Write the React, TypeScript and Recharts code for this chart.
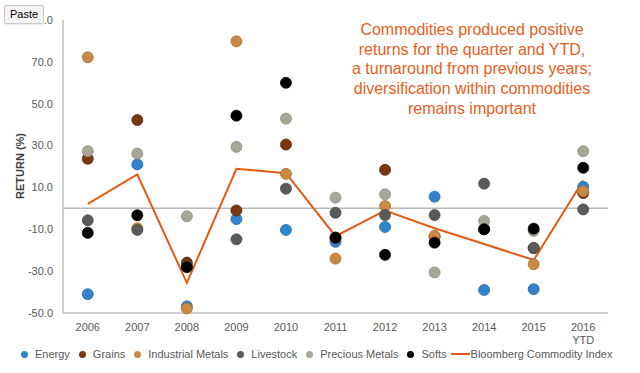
import React from 'react';
import {
  ComposedChart,
  Scatter,
  Line,
  XAxis,
  YAxis,
  ReferenceLine,
} from 'recharts';

const years = ['2006', '2007', '2008', '2009', '2010', '2011', '2012', '2013', '2014', '2015', '2016 YTD'];
const energy = [-41, 21, -46.8, -5.1, -10.3, -16, -8.9, 5.6, -39, -38.6, 10.3];
const grains = [23.7, 42.2, -25.9, -1, 30.5, -14, 18.4, -13.5, -10, -19, 7.3];
const industrialMetals = [72.2, -9.5, -47.8, 79.8, 16.5, -24, 1.1, -13.1, -9.8, -26.7, 8.2];
const livestock = [-5.7, -10.3, -27.5, -14.8, 9.4, -2.1, -3.2, -3.2, 11.8, -18.9, -0.5];
const preciousMetals = [27.3, 26.2, -3.8, 29.4, 42.9, 5.1, 6.7, -30.6, -6, -10.8, 27.3];
const softs = [-11.7, -3.3, -28.1, 44.3, 60, -14, -22.2, -16.4, -10, -9.7, 19.4];
const bci = [2.1, 16.2, -35.6, 18.9, 16.8, -13.3, -1.1, -9.5, -17.0, -24.7, 13.3];
const yTicks = [-50, -30, -10, 10, 30, 50, 70, 90];

const annotationLines = [
  'Commodities produced positive',
  'returns for the quarter and YTD,',
  'a turnaround from previous years;',
  'diversification within commodities',
  'remains important',
];

const series = [
  { key: 'energy', name: 'Energy', fill: '#3283cc', stroke: '#2468a8' },
  { key: 'grains', name: 'Grains', fill: '#7a3511', stroke: '#5e270b' },
  { key: 'industrialMetals', name: 'Industrial Metals', fill: '#c98a45', stroke: '#a86f33' },
  { key: 'livestock', name: 'Livestock', fill: '#5a5a5a', stroke: '#474747' },
  { key: 'preciousMetals', name: 'Precious Metals', fill: '#a7a697', stroke: '#8f8e80' },
  { key: 'softs', name: 'Softs', fill: '#000000', stroke: '#000000' },
];

const BCI_COLOR = '#e35a12';
const FONT = '"Liberation Sans", Arial, sans-serif';

const data = years.map((year, i) => ({
  year,
  energy: energy[i],
  grains: grains[i],
  industrialMetals: industrialMetals[i],
  livestock: livestock[i],
  preciousMetals: preciousMetals[i],
  softs: softs[i],
  bci: bci[i],
}));

const makeDot = (fill: string, stroke: string) => (props: any) => {
  const { cx, cy } = props;
  if (cx == null || cy == null) return <g />;
  return <circle cx={cx} cy={cy} r={5.5} fill={fill} stroke={stroke} strokeWidth={0.8} />;
};

const XTick = (props: any) => {
  const { x, y, payload } = props;
  const parts = String(payload.value).split(' ');
  return (
    <text x={x} y={y} textAnchor="middle" fill="#595959" fontSize={11} fontFamily={FONT}>
      {parts.map((p, i) => (
        <tspan key={i} x={x} dy={i === 0 ? 10 : 12.5}>
          {p}
        </tspan>
      ))}
    </text>
  );
};

const YLabel = () => (
  <text
    x={24}
    y={166}
    transform="rotate(-90 24 166)"
    textAnchor="middle"
    fill="#404040"
    fontSize={11}
    fontWeight="bold"
    fontFamily={FONT}
  >
    RETURN (%)
  </text>
);

export default function App() {
  return (
    <div style={{ position: 'absolute', left: 0, top: 0, width: 640, height: 373, background: '#fff', fontFamily: FONT }}>
      <ComposedChart width={640} height={373} data={data} margin={{ top: 20, right: 32, left: 0, bottom: 0 }}>
        <XAxis
          dataKey="year"
          type="category"
          scale="band"
          height={60}
          axisLine={{ stroke: '#bfbfbf', strokeWidth: 1.5 }}
          tickLine={false}
          tick={<XTick />}
          interval={0}
        />
        <YAxis
          type="number"
          domain={[-50, 90]}
          ticks={yTicks}
          width={63}
          tickMargin={4}
          axisLine={{ stroke: '#bfbfbf', strokeWidth: 1.5 }}
          tickLine={false}
          tick={{ fill: '#595959', fontSize: 11, fontFamily: FONT }}
          tickFormatter={(v: number) => v.toFixed(1)}
          label={<YLabel />}
        />
        <ReferenceLine y={0} stroke="#b8b8b8" strokeWidth={1.5} />
        <Line
          dataKey="bci"
          name="Bloomberg Commodity Index"
          stroke={BCI_COLOR}
          strokeWidth={2}
          dot={false}
          activeDot={false}
          isAnimationActive={false}
        />
        {series.map((s) => (
          <Scatter
            key={s.key}
            dataKey={s.key}
            name={s.name}
            fill={s.fill}
            shape={makeDot(s.fill, s.stroke)}
            isAnimationActive={false}
          />
        ))}
      </ComposedChart>

      <div
        style={{
          position: 'absolute',
          left: 317,
          top: 20,
          width: 310,
          textAlign: 'center',
          color: '#e8601c',
          fontSize: 16,
          lineHeight: '19.7px',
          fontFamily: FONT,
        }}
      >
        {annotationLines.map((l, i) => (
          <div key={i}>{l}</div>
        ))}
      </div>

      <div
        style={{
          position: 'absolute',
          left: 21,
          top: 346,
          height: 16,
          display: 'flex',
          alignItems: 'center',
          fontSize: 11,
          color: '#595959',
          fontFamily: FONT,
          whiteSpace: 'nowrap',
        }}
      >
        {series.map((s) => (
          <div key={s.key} style={{ display: 'flex', alignItems: 'center', marginRight: 9 }}>
            <span
              style={{
                display: 'inline-block',
                width: 7,
                height: 7,
                borderRadius: '50%',
                background: s.fill,
                marginRight: 7,
              }}
            />
            <span>{s.name}</span>
          </div>
        ))}
        <div style={{ display: 'flex', alignItems: 'center', marginLeft: -5 }}>
          <span style={{ display: 'inline-block', width: 19, height: 2, background: BCI_COLOR, marginRight: 1 }} />
          <span>Bloomberg Commodity Index</span>
        </div>
      </div>

      <div
        style={{
          position: 'absolute',
          left: 4,
          top: 5,
          width: 38,
          height: 17,
          border: '1px solid #c9c9c9',
          borderRadius: 2,
          background: '#f4f4f4',
          boxShadow: '0 1px 1px rgba(0,0,0,0.08)',
          fontSize: 11,
          lineHeight: '17px',
          textAlign: 'center',
          color: '#000',
          fontFamily: FONT,
        }}
      >
        Paste
      </div>
    </div>
  );
}
